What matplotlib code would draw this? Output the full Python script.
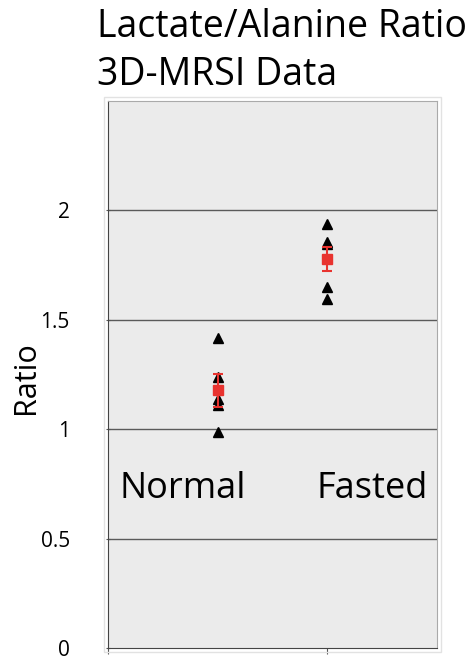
import numpy as np
import matplotlib.pyplot as plt
from matplotlib.patches import Rectangle

plt.rcParams['font.family'] = ['Open Sans', 'DejaVu Sans']

# data
groups = ['Normal', 'Fasted']
group_x = [1, 2]
label_x = [0.68, 2.41]
normal_pts = [1.415, 1.237, 1.14, 1.11, 0.986]
fasted_pts = [1.936, 1.854, 1.848, 1.648, 1.594]
means = [1.178, 1.776]
errs = [0.075, 0.055]
yticks = [0, 0.5, 1, 1.5, 2]
ytick_labels = ['0', '0.5', '1', '1.5', '2']

W, H = 471, 661
fig = plt.figure(figsize=(W/100, H/100), dpi=100)
ax = fig.add_axes([108/W, 1-648/H, (437-108)/W, (648-101)/H])
ax.set_facecolor('#ebebeb')

# faint outer frame around the plot area
fig.patches.append(Rectangle((104/W, 1-652/H), (441-104)/W, (652-97)/H,
	transform=fig.transFigure, fill=False, edgecolor='#e2e2e2', linewidth=1))

for i, pts in enumerate([normal_pts, fasted_pts]):
	ax.plot([group_x[i]]*len(pts), pts, linestyle='none', marker='^', color='black', markersize=6.5, zorder=3)

ax.errorbar(group_x, means, yerr=errs, fmt='s', color='#e8332f', ecolor='#e8332f',
	markersize=7.5, capsize=3.3, elinewidth=1.5, capthick=1.5, zorder=4)

for lx, name in zip(label_x, groups):
	ax.text(lx, 0.685, name, ha='center', va='baseline', fontsize=26, color='black')

ax.set_xlim(0, 3)
ax.set_ylim(0, 2.5)
ax.set_xticks([0, 2])
ax.set_xticklabels([])
ax.set_yticks(yticks)
ax.set_yticklabels(ytick_labels, fontsize=15)
ax.tick_params(axis='y', length=3, direction='inout', color='#555555', pad=26)
ax.tick_params(axis='x', length=4, direction='out', color='#555555')
for y in yticks[1:]:
	ax.axhline(y, color='#5a5a5a', linewidth=1, zorder=1)

for s in ['top', 'right']:
	ax.spines[s].set_color('#aaaaaa')
ax.spines['bottom'].set_color('#444444')
ax.spines['left'].set_color('#444444')

fig.text(26/W, 1-378/H, 'Ratio', rotation=90, ha='center', va='center', fontsize=22)

fig.text(97/W, 1-37/H, 'Lactate/Alanine Ratio', ha='left', va='baseline', fontsize=27)
fig.text(97/W, 1-85/H, '3D-MRSI Data', ha='left', va='baseline', fontsize=27)

plt.savefig('out.png', dpi=100)
